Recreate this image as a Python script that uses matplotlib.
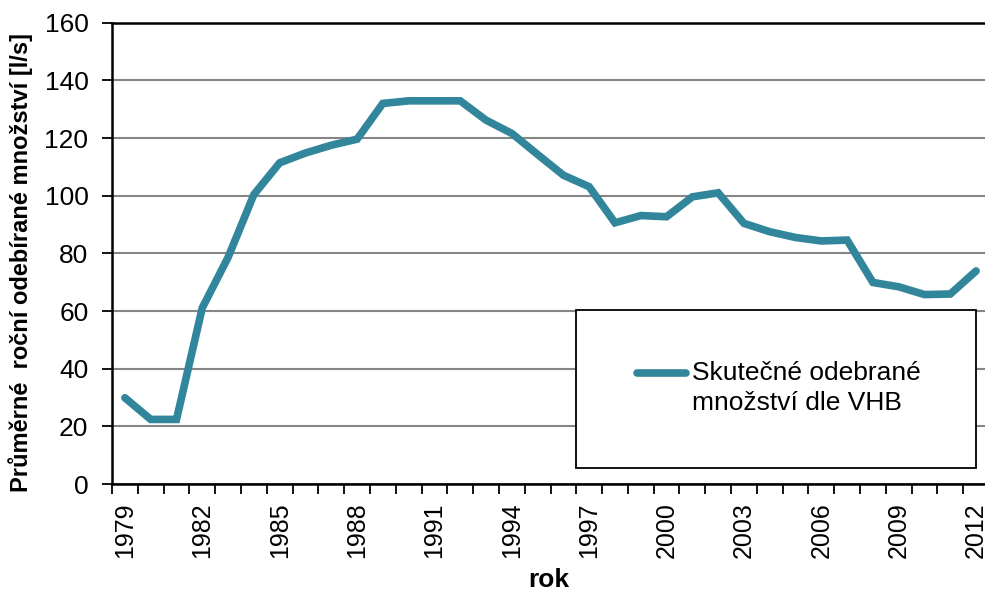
import matplotlib
matplotlib.use("Agg")
import matplotlib.pyplot as plt
from matplotlib.patches import Rectangle
from matplotlib.lines import Line2D
import numpy as np

plt.rcParams['font.family'] = ['Liberation Sans', 'DejaVu Sans']

years = list(range(1979, 2013))
flow = [29.9, 22.4, 22.4, 61.1, 78.6, 100.4, 111.4, 114.8, 117.5, 119.6,
        132.0, 132.9, 132.9, 132.9, 126.2, 121.6, 114.3, 107.1, 103.1, 90.6,
        93.1, 92.7, 99.6, 101.0, 90.4, 87.5, 85.5, 84.3, 84.6, 69.9,
        68.4, 65.7, 65.9, 73.9]
series_label = "Skutečné odebrané\nmnožství dle VHB"
y_label = "Průměrné  roční odebírané množství [l/s]"
x_label = "rok"
y_ticks = [0, 20, 40, 60, 80, 100, 120, 140, 160]

W, H = 985, 597
fig = plt.figure(figsize=(W / 100, H / 100), dpi=100)
ax = fig.add_axes([112 / W, (H - 484) / H, 877 / W, (484 - 22.7) / H])

line_color = "#31869B"
x = np.arange(len(years))
ax.plot(x, flow, color=line_color, lw=5.5, solid_capstyle="round",
        solid_joinstyle="miter", zorder=3)

ax.set_xlim(-0.5, len(years) - 0.5)
ax.set_ylim(0, 160)
ax.set_yticks(y_ticks)
ax.yaxis.grid(True, color="#868686", lw=1.5)
ax.set_axisbelow(True)

ax.set_xticks(x[::3])
ax.set_xticklabels([str(y) for y in years[::3]], rotation=90)
ax.set_xticks(np.arange(-0.5, len(years)), minor=True)
ax.tick_params(axis="x", which="major", length=0, pad=13, labelsize=18)
ax.tick_params(axis="x", which="minor", length=7, width=1.3, direction="out")
ax.tick_params(axis="y", length=7, width=1.3, direction="out", pad=10, labelsize=19)

for s in ["top", "right"]:
    ax.spines[s].set_visible(False)
for s in ["left", "bottom"]:
    ax.spines[s].set_linewidth(1.8)
    ax.spines[s].set_color("black")
ax.spines["bottom"].set_zorder(4)

# top border line of plot area
ax.axhline(160, color="black", lw=1.8, zorder=4, clip_on=False)

fig.text(21 / W, 1 - 262 / H, y_label, rotation=90, ha="center", va="center",
         fontsize=17, fontweight="bold")
fig.text(549 / W, 1 - 580 / H, x_label, ha="center", va="center",
         fontsize=19, fontweight="bold")

# legend box
bx0 = (576 - 112) / 877
by0 = (484 - 468) / (484 - 22.7)
bw = 400 / 877
bh = 158 / (484 - 22.7)
ax.add_patch(Rectangle((bx0, by0), bw, bh, transform=ax.transAxes,
                       facecolor="white", edgecolor="black", lw=1.3, zorder=5))
ly = (484 - 373) / (484 - 22.7)
ax.add_line(Line2D([(637 - 112) / 877, (686 - 112) / 877], [ly, ly],
                   transform=ax.transAxes, color=line_color, lw=5.5,
                   solid_capstyle="round", zorder=6))
ax.text((692 - 112) / 877, ly + 0.026, series_label, transform=ax.transAxes,
        ha="left", va="top", fontsize=19, linespacing=1.3, zorder=6)

fig.savefig("out.png", dpi=100)
